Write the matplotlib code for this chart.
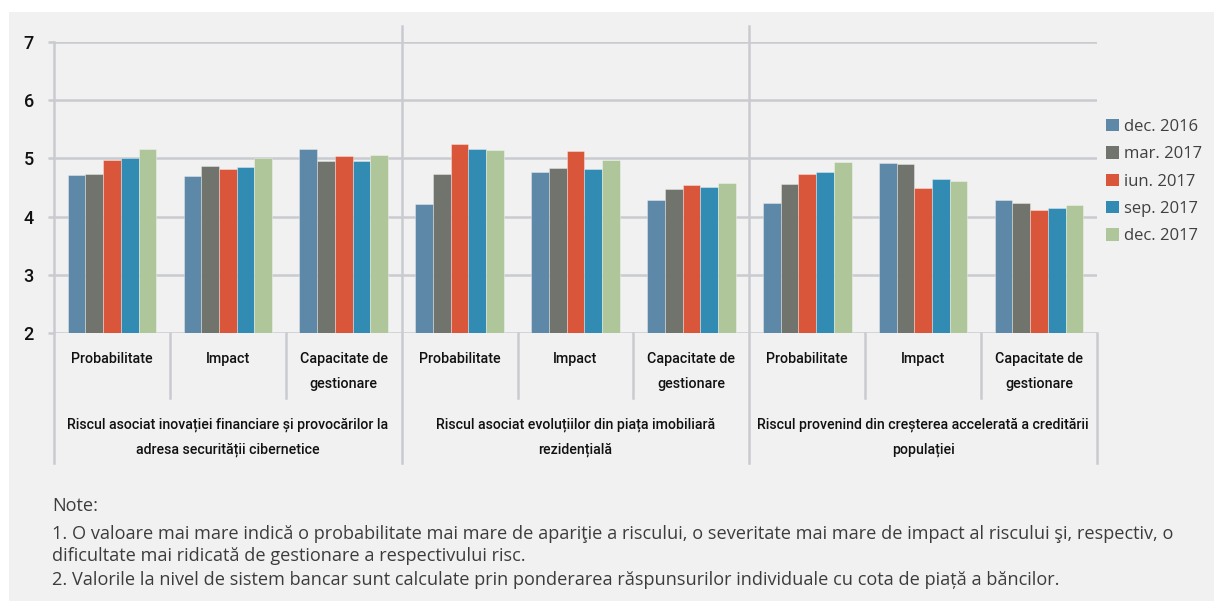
import matplotlib.pyplot as plt
import matplotlib.transforms as mtransforms
from matplotlib.patches import Rectangle, Patch
import numpy as np

# risk indicators, three per risk group
categories = [["Probabilitate"], ["Impact"], ["Capacitate de", "gestionare"]] * 3
groups = [
    ["Riscul asociat inovației financiare și provocărilor la", "adresa securității cibernetice"],
    ["Riscul asociat evoluțiilor din piața imobiliară", "rezidențială"],
    ["Riscul provenind din creșterea accelerată a creditării", "populației"],
]

series = ["dec. 2016", "mar. 2017", "iun. 2017", "sep. 2017", "dec. 2017"]
dec16 = [4.71, 4.70, 5.17, 4.21, 4.76, 4.29, 4.24, 4.92, 4.29]
mar17 = [4.73, 4.87, 4.96, 4.73, 4.83, 4.48, 4.56, 4.91, 4.23]
iun17 = [4.97, 4.81, 5.04, 5.25, 5.12, 4.55, 4.73, 4.49, 4.11]
sep17 = [5.00, 4.85, 4.96, 5.17, 4.81, 4.50, 4.76, 4.64, 4.14]
dec17 = [5.17, 5.00, 5.05, 5.14, 4.97, 4.57, 4.93, 4.61, 4.20]
yticks = [2, 3, 4, 5, 6, 7]

notes = [
    "Note:",
    "1. O valoare mai mare indică o probabilitate mai mare de apariţie a riscului, o severitate mai mare de impact al riscului şi, respectiv, o",
    "dificultate mai ridicată de gestionare a respectivului risc.",
    "2. Valorile la nivel de sistem bancar sunt calculate prin ponderarea răspunsurilor individuale cu cota de piață a băncilor.",
]

colors = ["#5e88a8", "#71746d", "#d9563a", "#328bb2", "#afc69b"]
grid_c = "#c9cbd0"
axis_font = ["Roboto", "DejaVu Sans"]
text_font = ["Open Sans", "DejaVu Sans"]

W, H = 1214, 601
fig = plt.figure(figsize=(W / 100, H / 100), dpi=100, facecolor="white")

# light grey panel behind everything
fig.patches.append(Rectangle((9 / W, 0), 1 - 9 / W, (H - 12) / H,
                             transform=fig.transFigure, facecolor="#f1f1f1",
                             edgecolor="none", zorder=-10))

x0, x1, ytop, ybot = 54, 1097, 42, 333
ax = fig.add_axes([x0 / W, (H - ybot) / H, (x1 - x0) / W, (ybot - ytop) / H])
ax.set_facecolor("none")

all_vals = [dec16, mar17, iun17, sep17, dec17]
n = len(categories)
x = np.arange(n)
bw = 0.153
for i, (vals, lab) in enumerate(zip(all_vals, series)):
    ax.bar(x + (i - 2) * bw, vals, width=bw, color=colors[i], label=lab,
           edgecolor=(1, 1, 1, 0.35), linewidth=0.7, zorder=3)

ax.set_xlim(-0.5, n - 0.5)
ax.set_ylim(2, 7)
ax.set_yticks(yticks)
ax.set_yticklabels([str(t) for t in yticks], family=axis_font, fontsize=13,
                   weight="medium", color="#111111")
ax.set_xticks([])
ax.yaxis.grid(True, color=grid_c, linewidth=1.8, zorder=0)
ax.tick_params(axis="y", length=4.5, width=1.8, color=grid_c, pad=10)
for s in ax.spines.values():
    s.set_visible(False)

# vertical axis and separators of the two-level category axis
tr = mtransforms.blended_transform_factory(ax.transData, ax.transAxes)
h = ybot - ytop
def yfrac(py):
    return (ybot - py) / h

ax.plot([-0.5, -0.5], [1, yfrac(463)], color=grid_c, lw=1.8, transform=tr, clip_on=False, zorder=1)
for gx in [2.5, 5.5]:
    ax.plot([gx, gx], [yfrac(26), yfrac(463)], color=grid_c, lw=1.8, transform=tr, clip_on=False, zorder=1)
ax.plot([8.5, 8.5], [0, yfrac(463)], color=grid_c, lw=1.8, transform=tr, clip_on=False, zorder=1)
for cx in [0.5, 1.5, 3.5, 4.5, 6.5, 7.5]:
    ax.plot([cx, cx], [0, yfrac(398)], color=grid_c, lw=1.8, transform=tr, clip_on=False, zorder=1)

for i, lines in enumerate(categories):
    for j, line in enumerate(lines):
        ax.text(i, yfrac(359 + 25 * j), line, transform=tr, ha="center", va="center",
                family=axis_font, fontsize=10.3, weight="medium", color="#111111")
for g, lines in enumerate(groups):
    for j, line in enumerate(lines):
        ax.text(3 * g + 1, yfrac(425 + 25 * j), line, transform=tr, ha="center", va="center",
                family=axis_font, fontsize=10.2, weight="medium", color="#111111")

handles = [Patch(facecolor=c, edgecolor="none") for c in colors]
fig.legend(handles, series, loc="upper left", bbox_to_anchor=(1106 / W, (H - 119) / H),
           frameon=False, borderpad=0, borderaxespad=0, handlelength=0.75, handleheight=0.75,
           handletextpad=0.35, labelspacing=0.68, prop={"family": text_font, "size": 12},
           labelcolor="#404040")

for j, (line, py) in enumerate(zip(notes, [506, 534, 556, 580])):
    fig.text(52 / W, (H - py) / H, line, ha="left", va="center",
             family=text_font, fontsize=13.05, color="#3c3c3c")

fig.savefig("out.png", dpi=100, facecolor=fig.get_facecolor())
